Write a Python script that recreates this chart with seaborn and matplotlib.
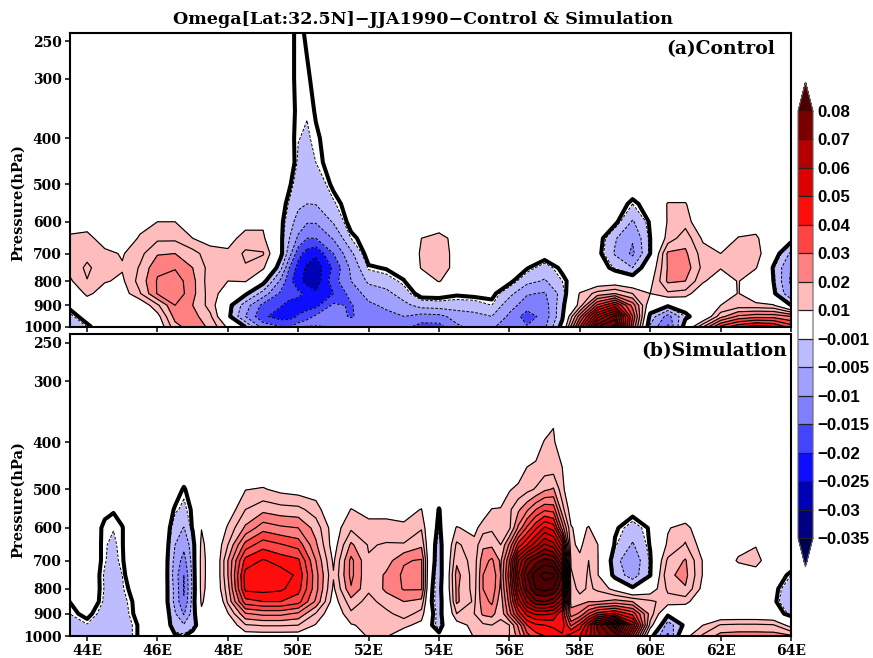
import numpy as np
import matplotlib
matplotlib.use("Agg")
import matplotlib.pyplot as plt
import seaborn as sns

# omega values, in units of 0.001, one list per pressure level
pressure = [240, 300, 350, 400, 450, 500, 550, 600, 650, 700, 750, 800, 850, 900, 950, 1000]
pressure_ticks = [250, 300, 400, 500, 600, 700, 800, 900, 1000]
lon_ticks = [44, 46, 48, 50, 52, 54, 56, 58, 60, 62, 64]
lon_labels = ["44E", "46E", "48E", "50E", "52E", "54E", "56E", "58E", "60E", "62E", "64E"]

# (a) Control
a_lon = [43.5, 44, 44.5, 45, 45.5, 46, 46.5, 47, 47.5, 48, 48.5, 49, 49.5,
         49.75, 50, 50.25, 50.5, 51, 51.5, 52, 52.5, 53, 53.5, 54, 54.5, 55, 55.5,
         56, 56.5, 57, 57.5, 58, 58.5, 59, 59.5, 60, 60.5, 61, 61.5, 62, 62.5, 63, 63.5, 64]
a_240 = [3, 3, 3, 3, 3, 3, 3, 3, 3, 3, 3, 3, 3,
         1, -0.9, 0.5, 3, 3, 3, 3, 3, 3, 3, 3, 3, 3, 3,
         3, 3, 3, 3, 3, 3, 3, 3, 3, 3, 3, 3, 3, 3, 3, 3, 3]
a_300 = [3, 3, 3, 3, 3, 3, 3, 3, 3, 3, 3, 3, 3,
         1, -0.9, -0.5, 1, 3, 3, 3, 3, 3, 3, 3, 3, 3, 3,
         3, 3, 3, 3, 3, 3, 3, 3, 3, 3, 3, 3, 3, 3, 3, 3, 3]
a_350 = [3, 3, 3, 3, 3, 3, 3, 3, 3, 3, 3, 3, 3,
         1, -0.6, -0.8, 0.2, 3, 3, 3, 3, 3, 3, 3, 3, 3, 3,
         3, 3, 3, 3, 3, 3, 3, 3, 3, 3, 3, 3, 3, 3, 3, 3, 3]
a_400 = [3, 3, 3, 3, 3, 3, 3, 3, 3, 3, 3, 3, 3,
         1, -0.9, -1.4, -0.3, 1, 3, 3, 3, 3, 3, 3, 3, 3, 3,
         3, 3, 3, 3, 3, 3, 3, 3, 3, 3, 3, 3, 3, 3, 3, 3, 3]
a_450 = [3, 3, 3, 3, 3, 3, 3, 3, 3, 3, 3, 3, 3,
         2, -1.5, -3.5, -1, 1.5, 3, 3, 3, 3, 3, 3, 3, 3, 3,
         3, 3, 3, 3, 3, 3, 3, 3, 3, 3, 3, 3, 3, 3, 3, 3, 3]
a_500 = [3, 3, 3, 3, 3, 3, 3, 3, 3, 3, 3, 3, 2,
         0.5, -3, -4.5, -3.5, 0.8, 3, 3, 3, 3, 3, 3, 3, 3, 3,
         3, 3, 3, 3, 3, 3, 3, 3, 3, 3, 3, 3, 3, 3, 3, 3, 3]
a_550 = [3, 3, 3, 3, 3, 3, 3, 3, 3, 3, 3, 3, 2,
         -1.5, -4, -5, -4.8, -1.5, 2, 3, 3, 3, 3, 3, 3, 3, 3,
         3, 3, 3, 3, 3, 3, 2.5, -1, 2, 10.5, 10.5, 3, 3, 3, 3, 3, 3]
a_600 = [7, 7, 4, 3, 7, 10, 10, 6, 3, 3, 8, 9, 1,
         -3, -7, -9.5, -9.5, -4.5, 1.5, 3, 3, 3, 6, 6, 3, 3, 3,
         3, 3, 3, 3, 3, 3, 1, -5.5, 0.5, 10.5, 13, 4, 3, 4, 7, 3, 3]
a_650 = [11, 12, 7, 4, 11, 14, 14, 10, 8, 8, 12, 11, 1,
         -5, -11, -15, -15, -9.5, -1, 2, 3, 3, 10, 12, 8, 3, 3,
         3, 3, 3, 3, 3, 2, -4.5, -9.5, 0, 12, 18, 9, 3, 10.5, 11, 5, 2]
a_700 = [12, 13.5, 11.5, 9.5, 13.5, 19.5, 20, 17, 12, 11, 16, 15.5, 1.5,
         -8, -18, -22, -24, -15, -6, 2, 2.5, 3, 11, 13, 8, 3, 3,
         3, 3, 2, 3, 3, 1.5, -5.5, -11, 0, 21, 21, 12.5, 10, 13, 13, 3, -6]
a_750 = [11.5, 16, 12, 10.5, 15.5, 24, 24.5, 20, 13, 11.5, 14.5, 11, -3.5,
         -15, -22, -26, -28, -19, -9, -0.5, 0.3, 2, 10.5, 13, 8, 3, 3,
         3, 0.3, -2.5, 0.8, 3, 3, -1.5, -5, 5, 20.5, 23, 13.5, 10.5, 14, 10.5, -0.5, -10]
a_800 = [9, 14.8, 10.5, 9, 17, 25.5, 28, 21.5, 12, 10, 10.5, 2, -11,
         -18.5, -23, -27, -28, -17, -10, -4, -2.5, -0.2, 5, 10.5, 5, 3, 2.5,
         1, -3.5, -5.5, -1, 3, 5, 5.5, 4, 8, 21, 20, 11, 5, 10.5, 4, 0, -11]
a_850 = [3, 11.5, 7, 7, 14.5, 25.5, 29, 21.5, 12.5, 7, 1, -7, -16,
         -17.5, -19, -21, -24, -20, -13, -8, -6.5, -2.5, 1.5, 1.5, 0.5, 1, 1,
         -3.5, -9.5, -10.5, -3, 10.5, 17, 20, 15, 10, 14, 13, 4, 5, 10.3, 5, 1, -9]
a_900 = [1, 5, 4, 4, 5, 14, 25, 20, 13, 2, -7.5, -16.5, -19.5,
         -22, -22, -22, -21.5, -14, -15.5, -11, -9, -6.5, -3, -2.5, -2.5, -2.5, -1,
         -8, -12.5, -12.5, -1.5, 12, 36, 47, 28, 5, 1, 2, 3, 10, 12, 11.5, 10.5, 0]
a_950 = [-2, 2, 3, 3, 4, 8, 22, 22, 16, 1.5, -10, -19, -22.5,
         -22, -19.5, -17.5, -14, -13, -15.5, -12.5, -11.5, -10, -12, -11.5, -8, -6.5, -5,
         -11, -17.5, -13, -1, 28, 58, 72, 35, -2, -12, -1, 3, 18, 26, 28, 28, 25]
a_1000 = [-4, -1, 3, 1, 3, 5, 18, 23, 19, 9, 0, -12, -14.5,
          -15, -12, -9.5, -9.5, -10, -11, -11, -12, -13.5, -17, -17, -11, -8.5, -9.5,
          -12, -14.5, -11, 2, 40, 75, 82, 30, -6, -16, 3, 20, 37, 44, 48, 46, 38]

# (b) Simulation
b_lon = [43.5, 44, 44.5, 44.75, 45, 45.5,
         46, 46.25, 46.5, 46.75, 47, 47.25, 47.5, 47.75,
         48, 48.5, 49, 49.5, 50, 50.5, 51,
         51.5, 52, 52.5, 53, 53.5, 53.75, 54, 54.25, 54.5,
         55, 55.25, 55.5, 55.75, 56, 56.25, 56.5, 56.75, 57, 57.25, 57.5, 57.75, 58, 58.25,
         58.5, 59, 59.5, 60, 60.5, 61, 61.5, 62, 62.5, 63, 63.5, 64]
b_240 = [3, 3, 3, 3, 3, 3,
         3, 3, 3, 3, 3, 3, 3, 3,
         3, 3, 3, 3, 3, 3, 3,
         3, 3, 3, 3, 3, 3, 3, 3, 3,
         3, 3, 3, 3, 3, 3, 3, 3, 3, 3, 3, 3, 3, 3,
         3, 3, 3, 3, 3, 3, 3, 3, 3, 3, 3, 3]
b_300 = [3, 3, 3, 3, 3, 3,
         3, 3, 3, 3, 3, 3, 3, 3,
         3, 3, 3, 3, 3, 3, 3,
         3, 3, 3, 3, 3, 3, 3, 3, 3,
         3, 3, 3, 3, 3, 3, 3, 3, 3, 3, 3, 3, 3, 3,
         3, 3, 3, 3, 3, 3, 3, 3, 3, 3, 3, 3]
b_350 = [3, 3, 3, 3, 3, 3,
         3, 3, 3, 3, 3, 3, 3, 3,
         3, 3, 3, 3, 3, 3, 3,
         3, 3, 3, 3, 3, 3, 3, 3, 3,
         3, 3, 3, 3, 3, 3, 3, 3, 5, 9, 3, 3, 3, 3,
         3, 3, 3, 3, 3, 3, 3, 3, 3, 3, 3, 3]
b_400 = [3, 3, 3, 3, 3, 3,
         3, 3, 3, 3, 3, 3, 3, 3,
         3, 3, 3, 3, 3, 3, 3,
         3, 3, 3, 3, 3, 3, 3, 3, 3,
         3, 3, 3, 3, 3, 3, 3, 7, 10.5, 11, 5, 3, 3, 3,
         3, 3, 3, 3, 3, 3, 3, 3, 3, 3, 3, 3]
b_450 = [3, 3, 3, 3, 3, 3,
         3, 3, 3, 3, 3, 3, 3, 3,
         3, 5, 5, 4, 3, 3, 3,
         3, 3, 3, 3, 3, 3, 3, 3, 3,
         3, 3, 3, 3, 3, 6, 10, 11, 12.5, 12.5, 10, 3, 3, 3,
         3, 3, 3, 3, 3, 3, 3, 3, 3, 3, 3, 3]
b_500 = [3, 3, 3, 3, 3, 3,
         3, 3, 2, -0.4, 2, 3, 3, 3,
         3, 9.8, 10.5, 8.5, 7.5, 7, 3,
         4, 3, 3, 3, 4, 3, 3, 3, 3,
         3, 3, 3, 5, 9.5, 11.5, 13.5, 15.5, 19, 20.5, 12, 3, 3, 3,
         3, 3, 3, 3, 3, 3, 3, 3, 3, 3, 3, 3]
b_550 = [3, 3, 0.8, 0.2, 0.8, 3,
         3, 2.5, -0.5, -1.7, 0.5, 3, 3, 3,
         6, 15, 18.5, 17, 16.5, 12.5, 4,
         10.2, 8, 8, 8, 10.2, 3, -0.2, 3, 4,
         4, 6, 10.3, 10.5, 14, 19, 24, 30, 34, 33, 17, 7, 3, 5,
         3, 3, 1.5, 2, 3, 3, 3, 3, 3, 3, 3, 3]
b_600 = [3, 3, -0.7, -0.9, -0.1, 3,
         3, 2, -3, -5.2, 0.5, 9.8, 3.5, 5,
         11, 21, 28, 26, 25, 18, 7,
         14, 12, 12, 11, 14.5, 3, -1, 5, 10.5,
         8, 13, 14, 13, 14, 26, 36, 44, 51, 48, 28, 10.5, 8, 10.5,
         6, 0.6, -2.5, 0.4, 9.5, 12.5, 4, 3, 3, 3, 3, 3]
b_650 = [3, 3, -0.8, -1.5, -0.1, 3,
         3, 1.5, -5, -8.5, -2.5, 11.5, 7, 8,
         15, 32, 38, 35.5, 33, 21, 7,
         21, 14.5, 15.5, 15.5, 19, 3, -2.5, 6, 16,
         12, 19, 19, 15, 26, 42, 50, 58, 66, 62, 48, 11, 9, 12.5,
         10.3, -0.5, -5.5, 0.3, 11, 15.5, 7, 3, 7, 9.5, 3, 3]
b_700 = [3, 3, -0.8, -2, -0.2, 3,
         3, 1, -6.5, -12, -3, 12, 7.5, 9,
         20, 42, 45.5, 43, 41, 25, 9,
         26.5, 15.5, 17.5, 24.5, 25.5, 3, -3, 7, 19,
         12.5, 23, 26, 19, 35, 60, 72, 78, 82, 80, 65, 14, 11, 15,
         10.5, -3.5, -8.5, -0.5, 16, 20.5, 9.5, 3, 11, 13, 3.5, 3]
b_750 = [3, 3, -1.3, -2.5, -1, 5,
         3, 1, -7.5, -15, -3.5, 12, 7.5, 9,
         20, 47, 49.5, 47.5, 44, 27, 10.5,
         26.5, 15.5, 21, 26, 26, 2, -3.5, 8, 22,
         12.5, 25, 29, 20, 38, 65, 80, 88, 92, 91, 80, 16, 11, 16,
         10.5, -2, -7.5, -0.2, 19, 21.5, 9.5, 3, 4, 6, 3, -1]
b_800 = [3, 3, -1.2, -2.5, -1.3, 2.5,
         3, 1, -6.5, -15.5, -4, 12, 7, 8.5,
         18, 46.5, 47, 46, 42, 27, 9,
         24.5, 16, 21, 25.5, 25.5, 0.8, -2.5, 8, 21,
         13, 25, 28.5, 19, 35, 60, 76, 85, 87, 85, 75, 18, 13, 16,
         14, 8, 1, 6, 16, 19.5, 8, 3, 3, 3, 1.5, -4]
b_850 = [0, 3, -1.5, -3, -2, 1.5,
         3, 1, -6.5, -14.5, -3, 11, 6, 5,
         16, 38, 40, 40, 37, 24, 7,
         18, 13, 17.5, 20, 18.5, 0.5, -2.5, 6, 21,
         14, 23, 26, 17, 32, 52, 66, 74, 75, 72, 62, 18, 18, 20,
         20, 22, 20, 16, 13, 12, 4, 3, 3, 3, 1, -5]
b_900 = [-1, 1, -2.5, -3, -2.5, 1.5,
         3, 2, -4.5, -10.5, -3, 8.5, 4, 4,
         9.5, 24.5, 26.5, 26.5, 24, 14.5, 5,
         14, 13, 13.5, 17.5, 13, 1, -2, 5, 15,
         15, 21, 22, 16, 28, 42, 52, 56, 56, 55, 45, 22, 26, 35,
         42, 46, 38, 18, 1.5, 3, 4, 4, 4, 4, 3, -2]
b_950 = [-2, -1.2, -3, -3.5, -3, 0.5,
         3, 3, -3.5, -4.5, -2, 3, 3, 3,
         5, 14.5, 15.5, 15.5, 15, 9.5, 5,
         9.5, 11.5, 12, 11.5, 8, 0.5, -2, 3, 7,
         12, 14, 15, 14, 15, 26, 40, 44, 45, 46, 48, 34, 42, 55,
         72, 88, 55, 13, -8, 1.5, 10, 15.5, 16, 16, 15.5, 7.5]
b_1000 = [-2.5, -3, -3, -3, -3, 0.5,
          3, 3, 0.5, -0.2, 2, 3, 3, 3,
          4, 7, 7, 7, 7, 6, 5,
          7, 10.5, 10.5, 6, 5, 3, 1, 3, 4,
          10.5, 11, 11, 12, 15, 22, 33, 38, 40, 42, 44, 48, 50, 58,
          68, 78, 40, 2, -11, 8, 16, 22, 22.5, 22.5, 22.5, 21]

# colour bar classes
bar_levels = [-0.035, -0.03, -0.025, -0.02, -0.015, -0.01, -0.005, -0.001,
              0.01, 0.02, 0.03, 0.04, 0.05, 0.06, 0.07, 0.08]
bar_labels = ["\u22120.035", "\u22120.03", "\u22120.025", "\u22120.02", "\u22120.015", "\u22120.01",
              "\u22120.005", "\u22120.001", "0.01", "0.02", "0.03", "0.04", "0.05", "0.06", "0.07", "0.08"]
bar_colors = ["#000050", "#000080", "#0000b4", "#0d0dff", "#4444ff", "#8080ff", "#a0a0ff",
              "#bcbcff", "#ffffff", "#ffbcbc", "#ff8080", "#ff4444", "#ff0d0d", "#dc0000", "#b40000",
              "#7a0000", "#4d0000"]
neg_lines = [-0.035, -0.03, -0.025, -0.02, -0.015, -0.01, -0.005, -0.001]
pos_lines = [0.01, 0.015, 0.02, 0.025, 0.03, 0.035, 0.04, 0.045, 0.05, 0.055,
             0.06, 0.065, 0.07, 0.075, 0.08, 0.085, 0.09]

sns.set_style("ticks")
plt.rcParams["font.family"] = ["DejaVu Serif"]
plt.rcParams["text.color"] = "black"
plt.rcParams["xtick.color"] = "black"
plt.rcParams["ytick.color"] = "black"
plt.rcParams["axes.edgecolor"] = "black"
plt.rcParams["axes.labelcolor"] = "black"
W, H = 873, 658


def px_axes(fig, left, top, right, bottom):
    return fig.add_axes([left / W, 1 - bottom / H, (right - left) / W, (bottom - top) / H])


def draw_panel(fig, ax, lon, rows, name, label_x, label_y):
    z = np.array(rows) / 1000.0
    cs = ax.contourf(lon, pressure, z, levels=bar_levels, colors=bar_colors, extend="both")
    pos = ax.contour(lon, pressure, z, levels=pos_lines, colors="black", linewidths=0.85, linestyles="solid")
    neg = ax.contour(lon, pressure, z, levels=neg_lines, colors="black", linewidths=0.7,
                     linestyles=[(0, (3, 1.6))])
    zero = ax.contour(lon, pressure, z, levels=[0], colors="black", linewidths=2.9, linestyles="solid")
    for lines in [pos, neg, zero]:
        lines.set_joinstyle("round")
    ax.set_yscale("log")
    ax.set_xlim(43.5, 64)
    ax.set_ylim(1000, 240)
    ax.set_yticks(pressure_ticks)
    ax.set_yticklabels([str(p) for p in pressure_ticks], fontsize=10, fontweight="bold")
    ax.minorticks_off()
    ax.set_xticks(lon_ticks)
    ax.tick_params(axis="both", length=3.5, width=1.1, pad=2, direction="out")
    ax.set_ylabel("Pressure(hPa)", fontsize=10.5, fontweight="bold")
    # y label position in figure pixels
    ax.yaxis.set_label_coords(25 / W, 1 - label_y / H, transform=fig.transFigure)
    for spine in ax.spines.values():
        spine.set_linewidth(1.5)
        spine.set_visible(True)
    ax.text(label_x, 0.945, name, transform=ax.transAxes, ha="right", va="center",
            fontsize=13.5, fontweight="bold")
    return cs


fig = plt.figure(figsize=(W / 100, H / 100), dpi=100)
ax_a = px_axes(fig, 69.5, 33, 791, 327)
ax_b = px_axes(fig, 69.5, 334, 791, 636)

a_rows = [a_240, a_300, a_350, a_400, a_450, a_500, a_550, a_600,
          a_650, a_700, a_750, a_800, a_850, a_900, a_950, a_1000]
b_rows = [b_240, b_300, b_350, b_400, b_450, b_500, b_550, b_600,
          b_650, b_700, b_750, b_800, b_850, b_900, b_950, b_1000]

cs = draw_panel(fig, ax_a, a_lon, a_rows, "(a)Control", 0.978, 203)
draw_panel(fig, ax_b, b_lon, b_rows, "(b)Simulation", 0.995, 500)
ax_a.set_xticklabels([])
ax_b.set_xticklabels(lon_labels, fontsize=10, fontweight="bold")

fig.text(423 / W, 1 - 19 / H, "Omega[Lat:32.5N]\u2212JJA1990\u2212Control & Simulation",
         ha="center", va="center", fontsize=12.6, fontweight="bold")

# colour bar, the axes box takes in the two end triangles
cax = px_axes(fig, 798, 82, 813, 567)
cbar = fig.colorbar(cs, cax=cax, extend="both", extendfrac=0.068, drawedges=True)
cbar.set_ticks(bar_levels)
cbar.set_ticklabels(bar_labels)
cbar.ax.minorticks_off()
cbar.ax.tick_params(length=0, pad=3, labelsize=12.2)
for t in cbar.ax.get_yticklabels():
    t.set_family("Liberation Sans")
    t.set_fontweight("bold")
cbar.outline.set_linewidth(0.8)
cbar.outline.set_edgecolor("#666666")
cbar.dividers.set_linewidth(0.9)
cbar.dividers.set_color("#222222")

fig.savefig("out.png", dpi=100)
